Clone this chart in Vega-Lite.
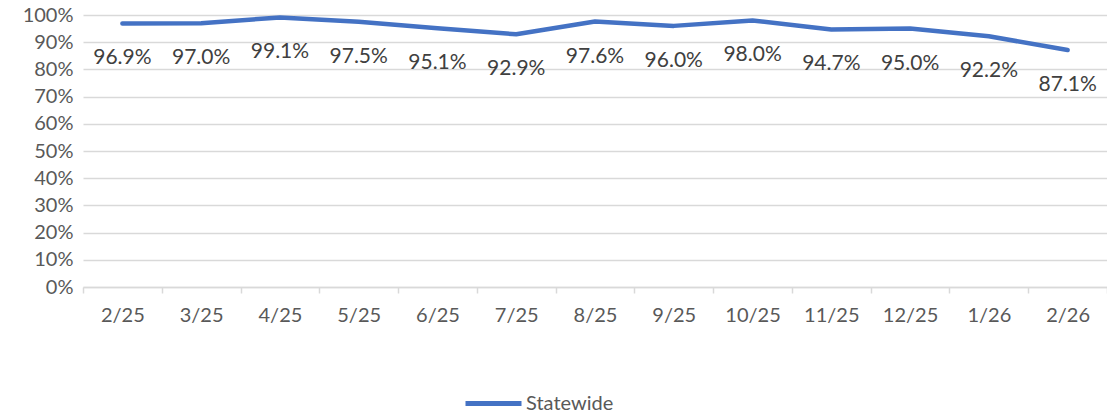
{
  "$schema": "https://vega.github.io/schema/vega-lite/v6.json",
  "width": 1024,
  "height": 272,
  "autosize": {"type": "none"},
  "padding": {"left": 83, "top": 15, "right": 0, "bottom": 128},
  "background": "white",
  "data": {"values": [
    {"month": "2/25", "value": 0.969, "series": "Statewide"},
    {"month": "3/25", "value": 0.970, "series": "Statewide"},
    {"month": "4/25", "value": 0.991, "series": "Statewide"},
    {"month": "5/25", "value": 0.975, "series": "Statewide"},
    {"month": "6/25", "value": 0.951, "series": "Statewide"},
    {"month": "7/25", "value": 0.929, "series": "Statewide"},
    {"month": "8/25", "value": 0.976, "series": "Statewide"},
    {"month": "9/25", "value": 0.960, "series": "Statewide"},
    {"month": "10/25", "value": 0.980, "series": "Statewide"},
    {"month": "11/25", "value": 0.947, "series": "Statewide"},
    {"month": "12/25", "value": 0.950, "series": "Statewide"},
    {"month": "1/26", "value": 0.922, "series": "Statewide"},
    {"month": "2/26", "value": 0.871, "series": "Statewide"}
  ]},
  "config": {
    "view": {"stroke": null},
    "font": "Lato",
    "axis": {"labelFont": "Lato", "labelColor": "#595959", "labelFontSize": 20}
  },
  "encoding": {
    "x": {
      "field": "month", "type": "ordinal", "sort": null,
      "scale": {"paddingInner": 0, "paddingOuter": 0},
      "axis": {"title": null, "labelAngle": 0, "grid": false, "domainColor": "#D9D9D9", "domainWidth": 1.5, "tickColor": "#D9D9D9", "tickWidth": 1.5, "tickSize": 6, "tickBand": "extent", "labelPadding": 12, "labelFontSize": 20, "labelOverlap": false}
    },
    "y": {
      "field": "value", "type": "quantitative",
      "scale": {"domain": [0, 1], "nice": false},
      "axis": {"title": null, "format": ".0%", "values": [0,0.1,0.2,0.3,0.4,0.5,0.6,0.7,0.8,0.9,1], "domain": false, "ticks": false, "gridColor": "#D9D9D9", "gridWidth": 1.5, "labelPadding": 10, "labelOverlap": false, "labelFontSize": 20}
    }
  },
  "layer": [
    {
      "mark": {"type": "line", "strokeWidth": 4.5, "strokeCap": "round", "strokeJoin": "round"},
      "encoding": {
        "color": {
          "field": "series", "type": "nominal",
          "scale": {"range": ["#4472C4"]},
          "legend": {"title": null, "orient": "none", "legendX": 380, "legendY": 358, "symbolType": "stroke", "symbolSize": 3136, "symbolStrokeWidth": 5, "labelFontSize": 20, "labelColor": "#595959", "labelFont": "Lato", "labelOffset": 2}
        }
      }
    },
    {
      "mark": {"type": "text", "dy": 35, "fontSize": 21, "color": "#404040", "font": "Lato"},
      "encoding": {"text": {"field": "value", "type": "quantitative", "format": ".1%"}}
    }
  ]
}
